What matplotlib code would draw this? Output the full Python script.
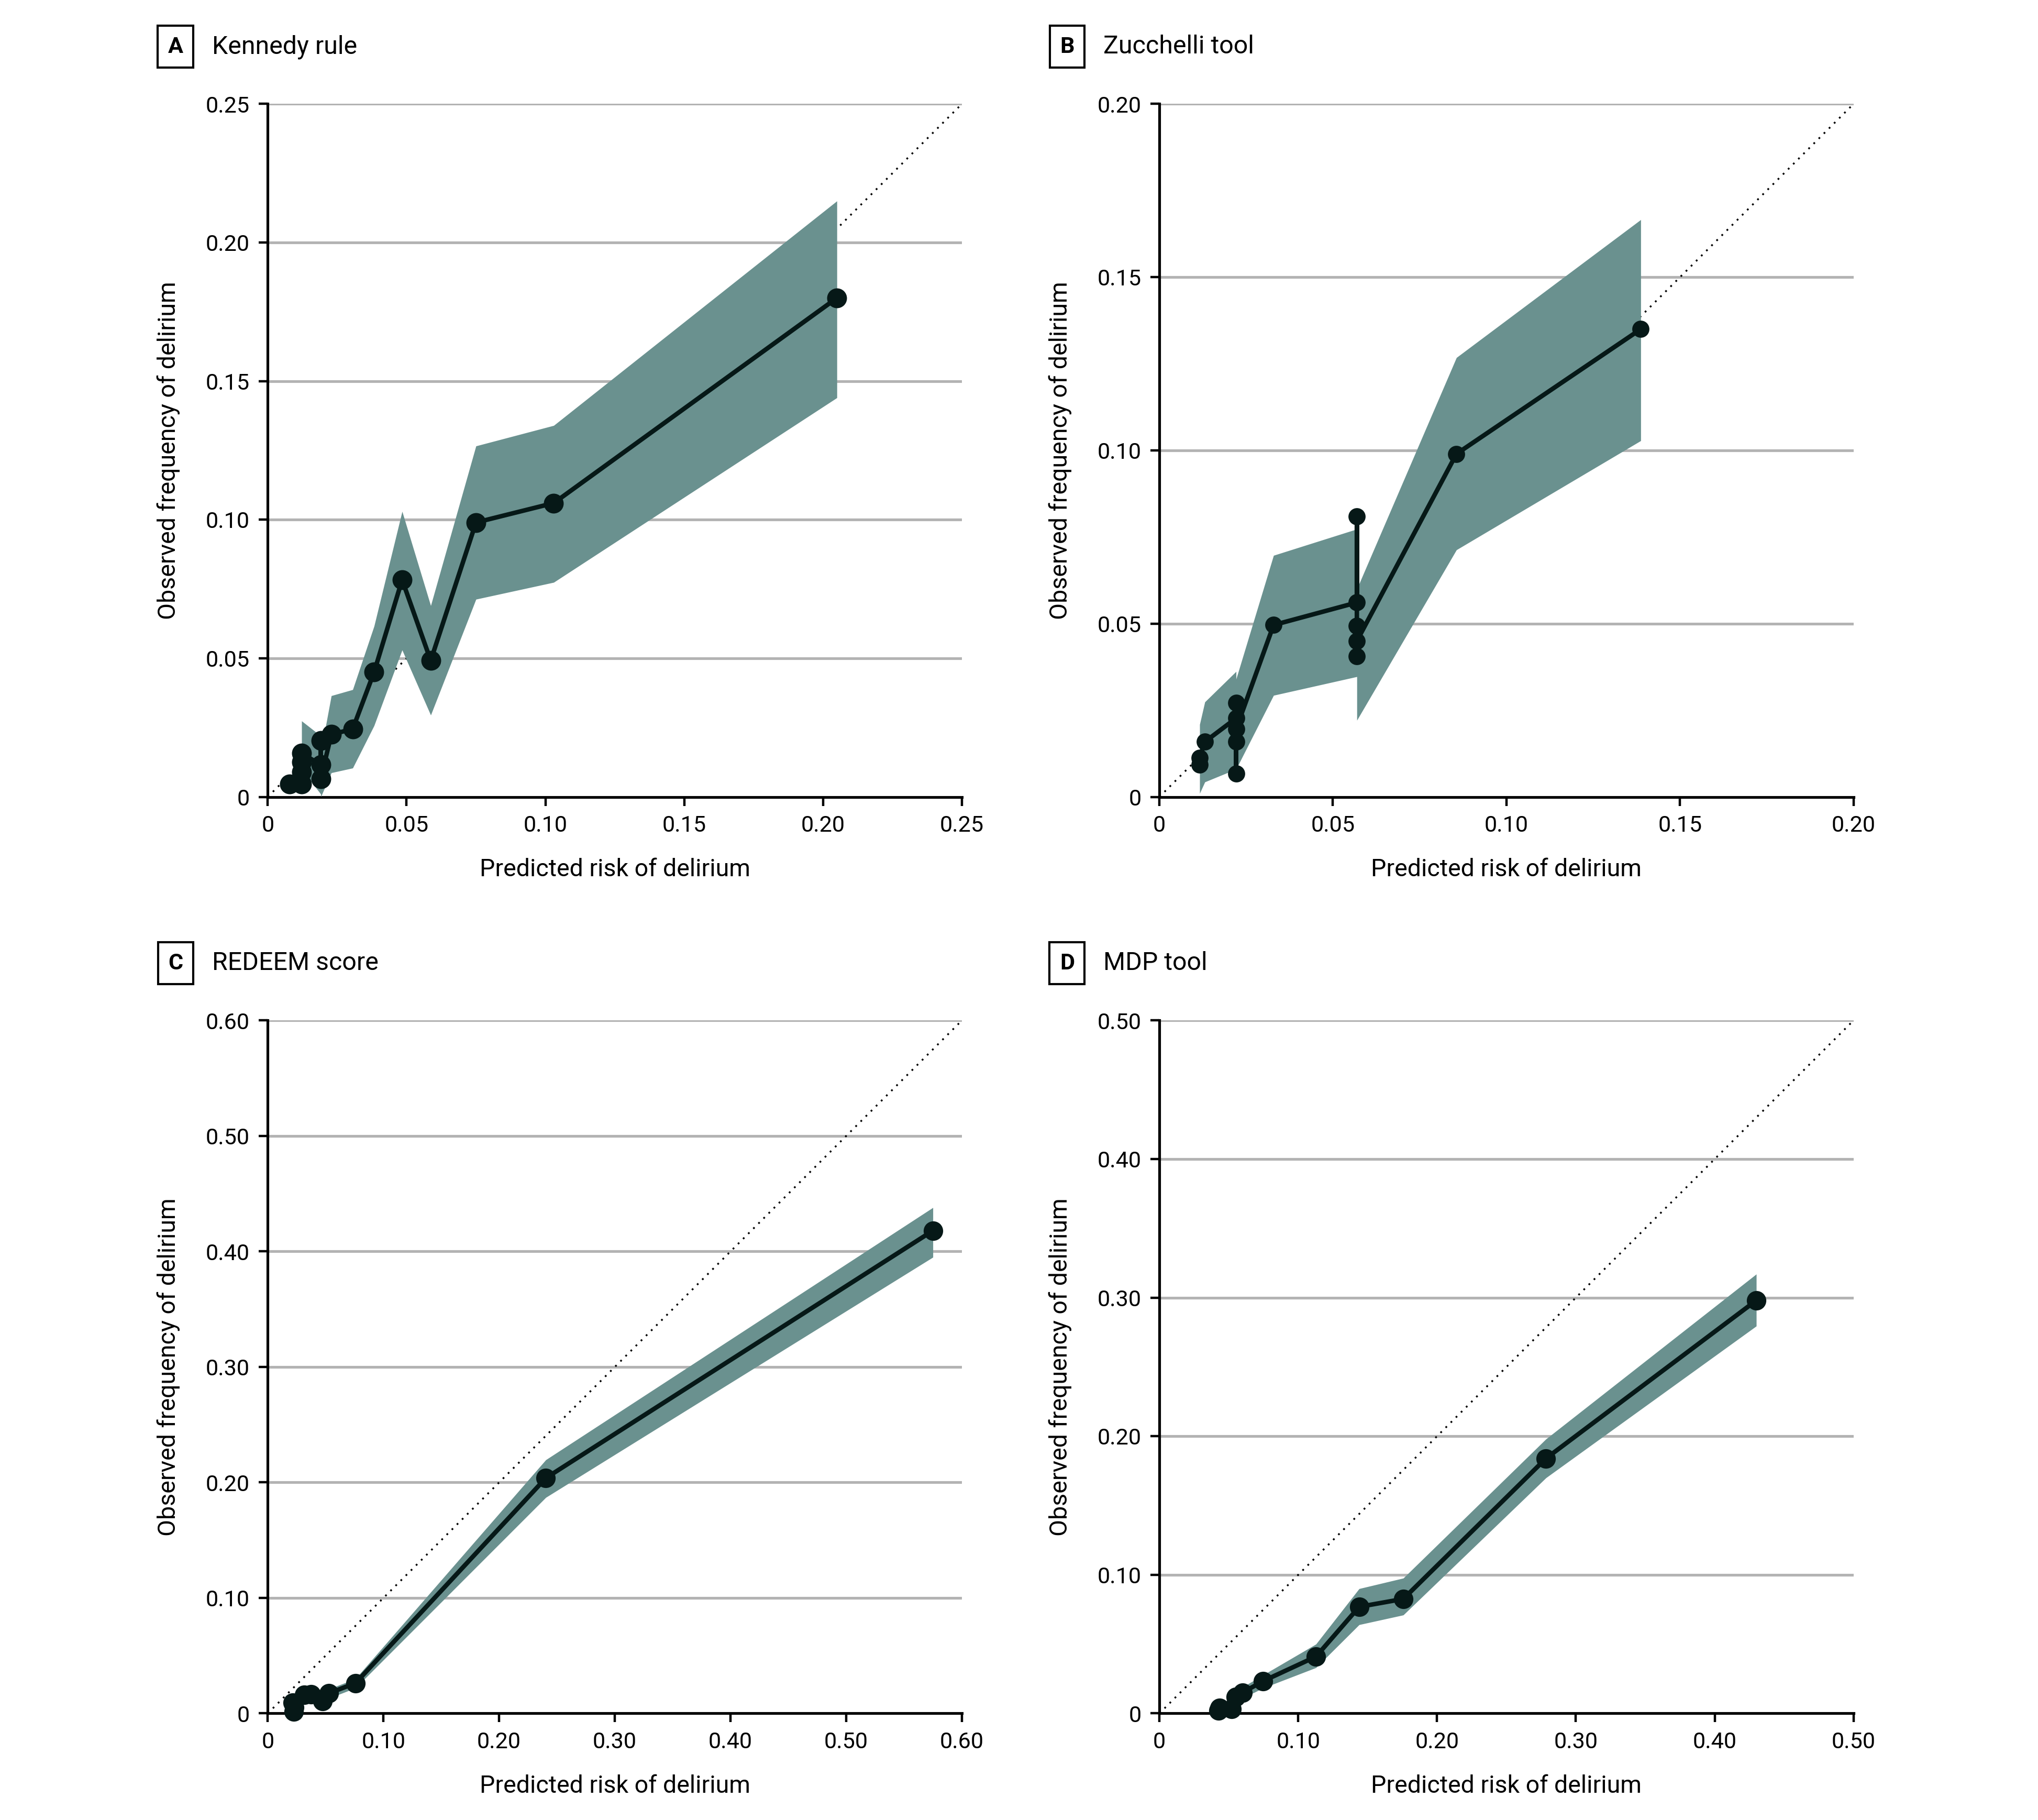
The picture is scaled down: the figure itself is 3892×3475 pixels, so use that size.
import numpy as np
import matplotlib
matplotlib.use('Agg')
import matplotlib.pyplot as plt

plt.rcParams['font.family'] = ['Roboto', 'DejaVu Sans']

# A - Kennedy rule
a_x = [0.0078, 0.0122, 0.0122, 0.0122, 0.0122, 0.0191, 0.0191, 0.0191, 0.0229, 0.0306,
       0.0383, 0.0484, 0.0587, 0.075, 0.103, 0.205]
a_y = [0.0047, 0.0047, 0.0090, 0.0125, 0.0157, 0.0116, 0.0204, 0.0066, 0.0225, 0.0245,
       0.045, 0.0783, 0.0492, 0.099, 0.106, 0.180]
a_lo = [0.0040, 0.0030, 0.0050, 0.0080, 0.0100, 0.0010, 0.0100, 0.0000, 0.0087, 0.0104,
        0.0257, 0.053, 0.0295, 0.0713, 0.0774, 0.144]
a_hi = [0.0055, 0.0080, 0.0140, 0.0180, 0.0274, 0.0220, 0.0294, 0.0160, 0.0365, 0.0387,
        0.0616, 0.103, 0.069, 0.1266, 0.134, 0.215]

# B - Zucchelli tool
b_x = [0.0116, 0.0116, 0.0131, 0.0221, 0.0221, 0.0221, 0.0221, 0.0221, 0.0329,
       0.0569, 0.0569, 0.0569, 0.0569, 0.0569, 0.0856, 0.1387]
b_y = [0.0093, 0.0112, 0.0159, 0.0227, 0.0271, 0.0159, 0.0068, 0.0196, 0.0496,
       0.0561, 0.081, 0.0494, 0.0406, 0.0450, 0.099, 0.135]
b_lo = [0.0000, 0.0010, 0.0043, 0.0080, 0.0120, 0.0060, 0.0000, 0.0080, 0.0293,
        0.0347, 0.0600, 0.0350, 0.0221, 0.0221, 0.0713, 0.1028]
b_hi = [0.0180, 0.0209, 0.0274, 0.0362, 0.0422, 0.0300, 0.0250, 0.0340, 0.0697,
        0.0773, 0.1070, 0.0700, 0.0600, 0.0600, 0.1268, 0.1666]

# C - REDEEM score
c_x = [0.0217, 0.0224, 0.0230, 0.0315, 0.0376, 0.0474, 0.0527, 0.0758, 0.2404, 0.575]
c_y = [0.0091, 0.0015, 0.0050, 0.0159, 0.0166, 0.0106, 0.0174, 0.0262, 0.2038, 0.418]
c_lo = [0.0060, 0.0000, 0.0020, 0.0120, 0.0130, 0.0080, 0.0130, 0.0220, 0.187, 0.395]
c_hi = [0.0120, 0.0040, 0.0080, 0.0190, 0.0200, 0.0140, 0.0210, 0.0300, 0.2196, 0.438]

# D - MDP tool
d_x = [0.0426, 0.0435, 0.052, 0.055, 0.060, 0.0747, 0.1128, 0.1439, 0.1757, 0.2785, 0.43]
d_y = [0.0020, 0.0040, 0.0031, 0.0120, 0.0151, 0.0233, 0.041, 0.0769, 0.0826, 0.184, 0.298]
d_lo = [0.0010, 0.0025, 0.0015, 0.0090, 0.0110, 0.0183, 0.033, 0.064, 0.071, 0.170, 0.2795]
d_hi = [0.0030, 0.0055, 0.0050, 0.0150, 0.0190, 0.0277, 0.050, 0.090, 0.0976, 0.198, 0.317]

panels = [
    ('A', 'Kennedy rule', a_x, a_y, a_lo, a_hi, 0.25, [0, 0.05, 0.10, 0.15, 0.20, 0.25], 10),
    ('B', 'Zucchelli tool', b_x, b_y, b_lo, b_hi, 0.20, [0, 0.05, 0.10, 0.15, 0.20], 8.5),
    ('C', 'REDEEM score', c_x, c_y, c_lo, c_hi, 0.60, [0, 0.10, 0.20, 0.30, 0.40, 0.50, 0.60], 9.8),
    ('D', 'MDP tool', d_x, d_y, d_lo, d_hi, 0.50, [0, 0.10, 0.20, 0.30, 0.40, 0.50], 9.8),
]

band_color = '#6a918f'
line_color = '#061817'
grid_color = '#b3b3b3'

W, H = 1568, 1400
fig = plt.figure(figsize=(15.68, 14.0), dpi=248.22)

# axes boxes in reference pixels: left, top
boxes = [(206, 80), (892, 80), (206, 785), (892, 785)]
aw, ah = 534, 533


def fmt(v):
    return '0' if v == 0 else '{:.2f}'.format(v)


for (letter, title, x, y, lo, hi, vmax, ticks, ms), (left, top) in zip(panels, boxes):
    ax = fig.add_axes([left / W, 1 - (top + ah) / H, aw / W, ah / H])
    ax.set_xlim(0, vmax)
    ax.set_ylim(0, vmax)
    for t in ticks[1:]:
        ax.axhline(t, color=grid_color, lw=1.5, zorder=1)
    ax.plot([0, vmax], [0, vmax], color='black', lw=1.0, ls=(0, (1, 3)), zorder=2)
    ax.fill_between(x, lo, hi, color=band_color, lw=0, zorder=3)
    ax.plot(x, y, color=line_color, lw=2.5, marker='o', ms=ms, zorder=4, clip_on=False)

    ax.set_xticks(ticks)
    ax.set_yticks(ticks)
    ax.set_xticklabels([fmt(t) for t in ticks])
    ax.set_yticklabels([fmt(t) for t in ticks])
    ax.tick_params(length=5, width=1.3, pad=5, labelsize=12.5, color='black')
    for s in ['top', 'right']:
        ax.spines[s].set_visible(False)
    for s in ['left', 'bottom']:
        ax.spines[s].set_linewidth(1.5)
    ax.set_xlabel('Predicted risk of delirium', fontsize=13.5, labelpad=12)
    ax.set_ylabel('Observed frequency of delirium', fontsize=13.5, labelpad=14)

    # panel letter box and title
    fig.text((left - 71) / W, 1 - (top - 44) / H, letter, fontsize=12.5, fontweight='bold',
             ha='center', va='center',
             bbox=dict(boxstyle='square,pad=0.45', fc='white', ec='black', lw=1.2))
    fig.text((left - 43) / W, 1 - (top - 44) / H, title, fontsize=14,
             ha='left', va='center')

fig.savefig('out.png', dpi=248.22)
